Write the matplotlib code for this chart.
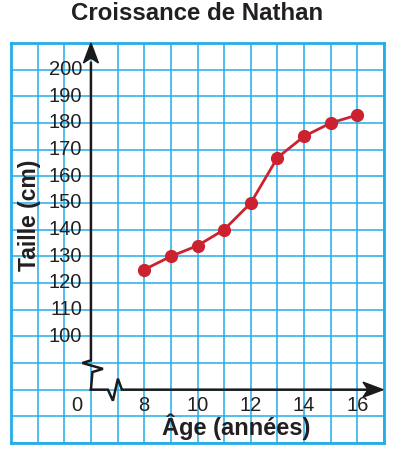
import numpy as np
import matplotlib.pyplot as plt
from matplotlib.patches import Polygon

plt.rcParams['font.family'] = ['Liberation Sans', 'DejaVu Sans']

# data
ages = [8, 9, 10, 11, 12, 13, 14, 15, 16]
heights = [125, 130, 134, 140, 150, 167, 175, 180, 183]
x_ticks = [8, 10, 12, 14, 16]
y_ticks = [100, 110, 120, 130, 140, 150, 160, 170, 180, 190, 200]

# grid paper: one cell = 1 year wide, 10 cm high
x_min, x_max = 3, 17
y_min, y_max = 60, 210
x_axis_at = 6     # where the (broken) y axis sits
y_axis_at = 80    # where the (broken) x axis sits

grid_col = '#22AEE6'
red = '#CC2230'
ink = '#231f20'

fig = plt.figure(figsize=(3.97, 4.51), dpi=100)
ax = fig.add_axes([11 / 397, 8 / 451, 373 / 397, 400 / 451])
ax.set_xlim(x_min, x_max)
ax.set_ylim(y_min, y_max)

for xv in np.arange(x_min, x_max + 1):
    ax.axvline(xv, color=grid_col, lw=1.1, zorder=1)
for yv in np.arange(y_min, y_max + 1, 10):
    ax.axhline(yv, color=grid_col, lw=1.1, zorder=1)
for s in ax.spines.values():
    s.set_color(grid_col)
    s.set_linewidth(2)
ax.set_xticks([])
ax.set_yticks([])

# px -> data scale
px_x = 1 / 26.67
px_y = 10 / 26.67

# y axis with break
yx = [x_axis_at, x_axis_at, x_axis_at - 8.5 * px_x, x_axis_at + 12 * px_x,
      x_axis_at + 1.5 * px_x, x_axis_at]
yy = [y_max - 20 * px_y, 91, 90, 87.8, 86.6, y_axis_at]
ax.plot(yx, yy, color='#1a1a1a', lw=1.8, zorder=3, solid_joinstyle='miter',
        clip_on=False)
# x axis with break
xx = [x_axis_at, x_axis_at + 17 * px_x, x_axis_at + 22 * px_x,
      x_axis_at + 27 * px_x, x_axis_at + 31 * px_x, x_max - 18 * px_x]
xy = [y_axis_at, y_axis_at, y_axis_at - 11 * px_y, y_axis_at + 11 * px_y,
      y_axis_at, y_axis_at]
ax.plot(xx, xy, color='#1a1a1a', lw=1.8, zorder=3, solid_joinstyle='miter',
        clip_on=False)

# arrow heads
hl, hw, notch = 20, 7.5, 5
ax.add_patch(Polygon([(x_axis_at, y_max),
                      (x_axis_at - hw * px_x, y_max - hl * px_y),
                      (x_axis_at, y_max - (hl - notch) * px_y),
                      (x_axis_at + hw * px_x, y_max - hl * px_y)],
                     closed=True, color='#1a1a1a', zorder=4, clip_on=False))
tip = x_max - 1 * px_x
ax.add_patch(Polygon([(tip, y_axis_at),
                      (tip - hl * px_x, y_axis_at + hw * px_y),
                      (tip - (hl - notch) * px_x, y_axis_at),
                      (tip - hl * px_x, y_axis_at - hw * px_y)],
                     closed=True, color='#1a1a1a', zorder=4, clip_on=False))

# tick labels
for v in y_ticks:
    ax.text(x_axis_at - 9 * px_x, v, str(v), ha='right', va='center',
            fontsize=14.5, color=ink, zorder=5)
for v in x_ticks:
    ax.text(v, y_axis_at - 16 * px_y, str(v), ha='center', va='center',
            fontsize=14.5, color=ink, zorder=5)
ax.text(x_axis_at - 14 * px_x, y_axis_at - 16 * px_y, '0', ha='center',
        va='center', fontsize=14.5, color=ink, zorder=5)

# data line
ax.plot(ages, heights, color=red, lw=2, marker='o', markersize=8.5, zorder=6)

ax.text(11.46, y_axis_at - 37.5 * px_y, 'Âge (années)', ha='center',
        va='center', fontsize=17, fontweight='bold', color=ink, zorder=5)
ax.text(3.68, 145.5, 'Taille (cm)', ha='center', va='center', rotation=90,
        fontsize=16.5, fontweight='bold', color=ink, zorder=5)

fig.text(197 / 397, 1 - 14 / 451, 'Croissance de Nathan', ha='center',
         va='center', fontsize=17.3, fontweight='bold', color=ink)

fig.savefig('out.png', dpi=100)
